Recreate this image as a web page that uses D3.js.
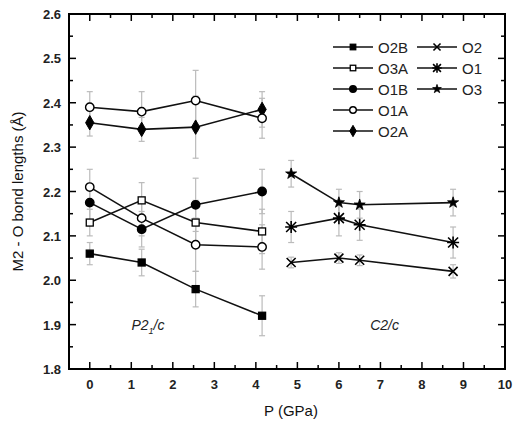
<!DOCTYPE html>
<html>
<head>
<meta charset="utf-8">
<script src="https://cdn.jsdelivr.net/npm/d3@7"></script>
<style>
  body { margin: 0; background: #fff; }
  text { font-family: Arial, "Liberation Sans", sans-serif; }
</style>
</head>
<body>
<div id="chart"></div>
<script>
// pressures (GPa)
const pLow = [0, 1.25, 2.55, 4.15];
const pHigh = [4.85, 6.0, 6.5, 8.75];

// P2_1/c bond lengths
const o2b = [2.06, 2.04, 1.98, 1.92];
const o2bErr = [0.025, 0.03, 0.04, 0.045];
const o3a = [2.13, 2.18, 2.13, 2.11];
const o3aErr = [0.03, 0.04, 0.05, 0.05];
const o1b = [2.175, 2.115, 2.17, 2.20];
const o1bErr = [0.04, 0.04, 0.06, 0.05];
const o1a = [2.21, 2.14, 2.08, 2.075];
const o1aErr = [0.04, 0.04, 0.06, 0.05];
const o2a = [2.355, 2.34, 2.345, 2.385];
const o2aErr = [0.03, 0.027, 0.07, 0.04];
const o1aUp = [2.39, 2.38, 2.405, 2.365];
const o1aUpErr = [0.035, 0.045, 0.068, 0.045];

// C2/c bond lengths
const o2 = [2.04, 2.05, 2.045, 2.02];
const o2Err = [0.012, 0.012, 0.012, 0.015];
const o1 = [2.12, 2.14, 2.125, 2.085];
const o1Err = [0.035, 0.04, 0.035, 0.035];
const o3 = [2.24, 2.175, 2.17, 2.175];
const o3Err = [0.03, 0.03, 0.03, 0.03];

const xTicks = [0, 1, 2, 3, 4, 5, 6, 7, 8, 9, 10];
const yTicks = [1.8, 1.9, 2.0, 2.1, 2.2, 2.3, 2.4, 2.5, 2.6];

const series = [
  {name: "O2B", p: pLow, v: o2b, e: o2bErr, sym: "square", fill: true},
  {name: "O3A", p: pLow, v: o3a, e: o3aErr, sym: "square", fill: false},
  {name: "O1B", p: pLow, v: o1b, e: o1bErr, sym: "circle", fill: true},
  {name: "O1A", p: pLow, v: o1a, e: o1aErr, sym: "circle", fill: false},
  {name: "O2A", p: pLow, v: o2a, e: o2aErr, sym: "diamond", fill: true},
  {name: "", p: pLow, v: o1aUp, e: o1aUpErr, sym: "circle", fill: false},
  {name: "O2", p: pHigh, v: o2, e: o2Err, sym: "cross", fill: true},
  {name: "O1", p: pHigh, v: o1, e: o1Err, sym: "asterisk", fill: true},
  {name: "O3", p: pHigh, v: o3, e: o3Err, sym: "star", fill: true}
];

const W = 517, H = 427;
const margin = {top: 14, right: 12, bottom: 58, left: 69};
const width = W - margin.left - margin.right,
      height = H - margin.top - margin.bottom;

const svg = d3.select("#chart").append("svg")
    .attr("width", W).attr("height", H)
  .append("g")
    .attr("transform", `translate(${margin.left},${margin.top})`);

const x = d3.scaleLinear().domain([-0.5, 10]).range([0, width]);
const y = d3.scaleLinear().domain([1.8, 2.6]).range([height, 0]);

// frame
svg.append("rect")
  .attr("width", width).attr("height", height)
  .attr("fill", "none").attr("stroke", "#000").attr("stroke-width", 2);

// ticks (inward, all four sides)
const xMinor = d3.range(-0.5, 10.01, 0.5).filter(d => !xTicks.includes(d));
const yMinor = d3.range(1.85, 2.6, 0.1);
function tickSet(vals, len) {
  vals.forEach(d => {
    svg.append("line").attr("x1", x(d)).attr("x2", x(d)).attr("y1", height).attr("y2", height - len)
      .attr("stroke", "#000").attr("stroke-width", 1.5);
    svg.append("line").attr("x1", x(d)).attr("x2", x(d)).attr("y1", 0).attr("y2", len)
      .attr("stroke", "#000").attr("stroke-width", 1.5);
  });
}
tickSet(xTicks, 7);
tickSet(xMinor, 4);
function yTickSet(vals, len) {
  vals.forEach(d => {
    svg.append("line").attr("x1", 0).attr("x2", len).attr("y1", y(d)).attr("y2", y(d))
      .attr("stroke", "#000").attr("stroke-width", 1.5);
    svg.append("line").attr("x1", width).attr("x2", width - len).attr("y1", y(d)).attr("y2", y(d))
      .attr("stroke", "#000").attr("stroke-width", 1.5);
  });
}
yTickSet(yTicks, 7);
yTickSet(yMinor, 4);

// tick labels
svg.selectAll(".xl").data(xTicks).join("text")
  .attr("x", d => x(d)).attr("y", height + 20)
  .attr("text-anchor", "middle").attr("font-size", 13).attr("font-weight", "bold")
  .attr("fill", "#222")
  .text(d => d);
svg.selectAll(".yl").data(yTicks).join("text")
  .attr("x", -8).attr("y", d => y(d) + 5)
  .attr("text-anchor", "end").attr("font-size", 13).attr("font-weight", "bold")
  .attr("fill", "#222")
  .text(d => d3.format(".1f")(d));

// axis titles
svg.append("text")
  .attr("x", width / 2 + 4).attr("y", height + 47)
  .attr("text-anchor", "middle").attr("font-size", 15).attr("fill", "#111")
  .text("P (GPa)");
svg.append("text")
  .attr("transform", `translate(${-46},${height / 2}) rotate(-90)`)
  .attr("text-anchor", "middle").attr("font-size", 15).attr("fill", "#111")
  .text("M2 - O bond lengths (Å)");

// phase labels
const phaseLbl = svg.append("text")
  .attr("x", x(1.4)).attr("y", y(1.9) + 5)
  .attr("text-anchor", "middle").attr("font-size", 14).attr("font-style", "italic").attr("fill", "#222");
phaseLbl.append("tspan").text("P2");
phaseLbl.append("tspan").attr("font-size", 9).attr("dy", 4).text("1");
phaseLbl.append("tspan").attr("dy", -4).text("/c");
svg.append("text")
  .attr("x", x(7.1)).attr("y", y(1.9) + 5)
  .attr("text-anchor", "middle").attr("font-size", 14).attr("font-style", "italic").attr("fill", "#222")
  .text("C2/c");

// marker drawing
function marker(g, sym, fill, s) {
  const k = s / 7;
  if (sym === "square") {
    g.append("rect").attr("x", -3.5 * k).attr("y", -3.5 * k).attr("width", 7 * k).attr("height", 7 * k)
      .attr("fill", fill ? "#000" : "#fff").attr("stroke", "#000").attr("stroke-width", 1.3);
  } else if (sym === "circle") {
    g.append("circle").attr("r", 4.2 * k)
      .attr("fill", fill ? "#000" : "#fff").attr("stroke", "#000").attr("stroke-width", 1.4);
  } else if (sym === "diamond") {
    g.append("path").attr("d", d3.symbol(d3.symbolDiamond, 60 * k * k)())
      .attr("fill", "#000").attr("stroke", "#000");
  } else if (sym === "cross") {
    g.append("path").attr("d", `M${-4.5*k},${-4.5*k}L${4.5*k},${4.5*k}M${-4.5*k},${4.5*k}L${4.5*k},${-4.5*k}`)
      .attr("stroke", "#000").attr("stroke-width", 1.6);
  } else if (sym === "asterisk") {
    g.append("path").attr("d", `M${-5*k},${-5*k}L${5*k},${5*k}M${-5*k},${5*k}L${5*k},${-5*k}M0,${-6*k}L0,${6*k}M${-6*k},0L${6*k},0`)
      .attr("stroke", "#000").attr("stroke-width", 1.6);
  } else if (sym === "star") {
    g.append("path").attr("d", d3.symbol(d3.symbolStar, 38 * k * k)())
      .attr("fill", "#000").attr("stroke", "#000").attr("stroke-width", 0.8);
  }
}

// error bars
series.forEach(s => {
  const g = svg.append("g").attr("stroke", "#bbb").attr("stroke-width", 1.2);
  s.p.forEach((p, i) => {
    const cx = x(p), y0 = y(s.v[i] - s.e[i]), y1 = y(s.v[i] + s.e[i]);
    g.append("line").attr("x1", cx).attr("x2", cx).attr("y1", y0).attr("y2", y1);
    g.append("line").attr("x1", cx - 3).attr("x2", cx + 3).attr("y1", y0).attr("y2", y0);
    g.append("line").attr("x1", cx - 3).attr("x2", cx + 3).attr("y1", y1).attr("y2", y1);
  });
});

// lines
const line = d3.line().x(d => x(d[0])).y(d => y(d[1]));
series.forEach(s => {
  svg.append("path")
    .datum(s.p.map((p, i) => [p, s.v[i]]))
    .attr("d", line)
    .attr("fill", "none").attr("stroke", "#111").attr("stroke-width", 1.6);
});

// markers
series.forEach(s => {
  s.p.forEach((p, i) => {
    const g = svg.append("g").attr("transform", `translate(${x(p)},${y(s.v[i])})`);
    marker(g, s.sym, s.fill, 7);
  });
});

// legend
const legLeft = series.filter(s => s.p === pLow && s.name);
const legRight = series.filter(s => s.p === pHigh);
function legendCol(items, lx, ty) {
  items.forEach((s, i) => {
    const yy = ty + i * 21;
    svg.append("line").attr("x1", lx).attr("x2", lx + 40).attr("y1", yy).attr("y2", yy)
      .attr("stroke", "#111").attr("stroke-width", 1.6);
    const g = svg.append("g").attr("transform", `translate(${lx + 20},${yy})`);
    marker(g, s.sym, s.fill, 5.5);
    svg.append("text").attr("x", lx + 45).attr("y", yy + 5.5)
      .attr("font-size", 15).attr("fill", "#222").text(s.name);
  });
}
legendCol(legLeft, 333 - margin.left, 47 - margin.top);
legendCol(legRight, 417 - margin.left, 47 - margin.top);
</script>
</body>
</html>
